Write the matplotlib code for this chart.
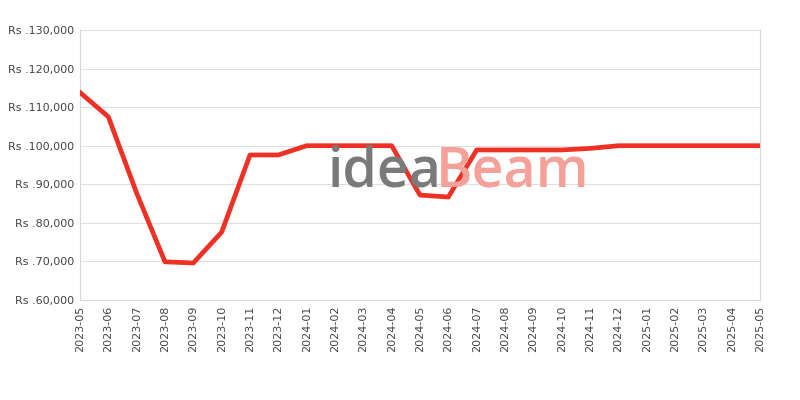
import matplotlib; matplotlib.use("agg")
import matplotlib.pyplot as plt
import numpy as np

months = ['2023-05', '2023-06', '2023-07', '2023-08', '2023-09', '2023-10',
          '2023-11', '2023-12', '2024-01', '2024-02', '2024-03', '2024-04',
          '2024-05', '2024-06', '2024-07', '2024-08', '2024-09', '2024-10',
          '2024-11', '2024-12', '2025-01', '2025-02', '2025-03', '2025-04',
          '2025-05']
prices = [113800, 107500, 87700, 69900, 69600, 77600,
          97600, 97600, 100000, 100000, 100000, 100000,
          87200, 86700, 98900, 98900, 98900, 98900,
          99300, 100000, 100000, 100000, 100000, 100000,
          100000]

fig = plt.figure(figsize=(8, 4), dpi=100)
ax = fig.add_axes([0.1, 0.25, 0.85, 0.675])

# watermark
fig.text(0.41, 0.57, 'idea', fontsize=40, color='#7a7a7a', family='Open Sans',
         fontweight='semibold', ha='left', va='center', zorder=0)
fig.text(0.545, 0.57, 'Beam', fontsize=40, color='#f5a098', family='Open Sans',
         fontweight='semibold', ha='left', va='center', zorder=0)

x = np.arange(len(months))
ax.plot(x, prices, color='#ee3124', lw=3.4, solid_joinstyle='round', zorder=3)

ax.set_xlim(0, len(months) - 1)
ax.set_ylim(60000, 130000)
ax.set_xticks(x)
ax.set_xticklabels(months, rotation=90)
yt = np.arange(60000, 130001, 10000)
ax.set_yticks(yt)
ax.set_yticklabels(['Rs .{:,}'.format(v) for v in yt])
ax.tick_params(length=0, labelsize=8, colors='#444444', pad=4)
ax.grid(axis='y', color='#e0e0e0', lw=0.8)
ax.set_axisbelow(True)
ax.patch.set_alpha(0)
for s in ['left', 'bottom', 'right']:
    ax.spines[s].set_color('#d8d8d8')
ax.spines['top'].set_visible(False)

plt.savefig('out.png')
